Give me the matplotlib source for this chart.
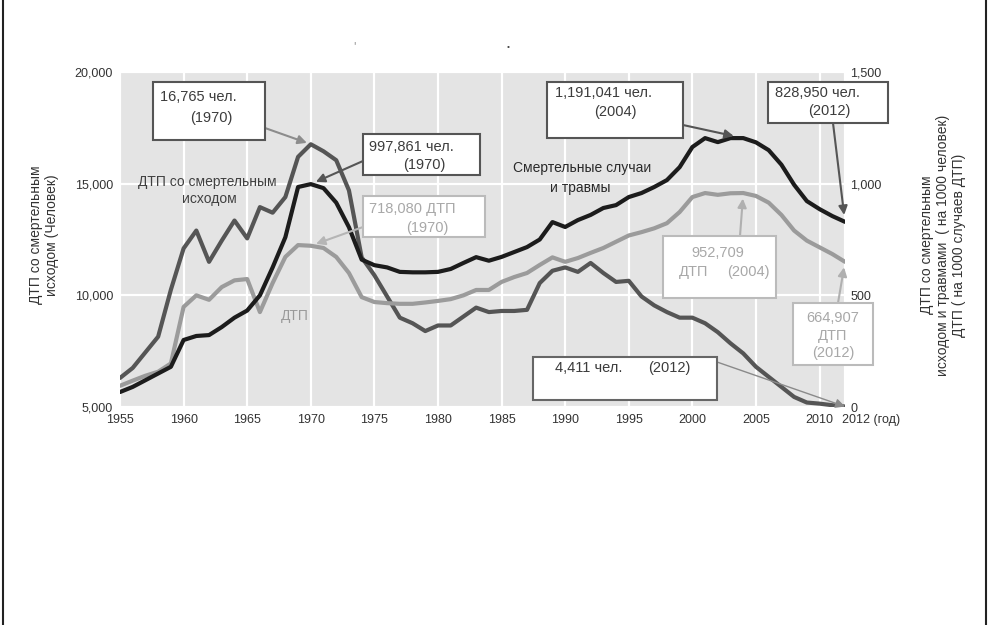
import matplotlib
matplotlib.use("Agg")
import matplotlib.pyplot as plt
from matplotlib.patches import Rectangle
from matplotlib.lines import Line2D
import matplotlib.transforms as mtransforms

plt.rcParams['font.family'] = ['Liberation Sans', 'DejaVu Sans']

# ---------------- data ----------------
years = list(range(1955, 2013))

# ДТП со смертельным исходом (человек) - left axis
fatalities = [6300, 6750, 7450, 8150, 10250, 12100, 12900, 11500, 12450, 13350,
              12550, 13950, 13700, 14400, 16200, 16765, 16450, 16050, 14700, 11700,
              10900, 9950, 9000, 8750, 8400, 8650, 8650, 9050, 9450, 9250,
              9300, 9300, 9350, 10550, 11100, 11250, 11050, 11450, 11000, 10600,
              10650, 9950, 9550, 9250, 9000, 9000, 8750, 8350, 7850, 7400,
              6800, 6350, 5900, 5450, 5200, 5150, 5080, 5020]

# Смертельные случаи и травмы (тыс.) - right axis
deaths_injuries = [67, 90, 120, 150, 180, 300, 318, 322, 358, 400,
                   432, 500, 625, 760, 985, 998, 980, 915, 805, 660,
                   635, 625, 605, 603, 603, 605, 618, 645, 671, 655,
                   672, 694, 716, 750, 828, 806, 837, 860, 891, 904,
                   940, 958, 985, 1016, 1074, 1164, 1204, 1186, 1204, 1204,
                   1185, 1150, 1085, 995, 922, 886, 855, 829]

# ДТП (тыс.) - right axis
accidents = [95, 118, 140, 158, 195, 448, 500, 480, 537, 567,
             573, 425, 555, 672, 725, 722, 712, 672, 600, 492,
             470, 465, 462, 462, 468, 475, 483, 500, 524, 524,
             560, 582, 600, 636, 670, 650, 667, 690, 712, 740,
             768, 783, 800, 823, 873, 940, 958, 950, 957, 958,
             945, 915, 860, 790, 745, 715, 685, 650]

x_ticks = [1955, 1960, 1965, 1970, 1975, 1980, 1985, 1990, 1995, 2000, 2005, 2010, 2012]
x_labels = ['1955', '1960', '1965', '1970', '1975', '1980', '1985', '1990',
            '1995', '2000', '2005', '2010', '2012 (год)']
left_ticks = [5000, 10000, 15000, 20000]
left_labels = ['5,000', '10,000', '15,000', '20,000']
right_ticks = [0, 500, 1000, 1500]
right_labels = ['0', '500', '1,000', '1,500']

# ---------------- figure ----------------
W, H = 990, 625
fig = plt.figure(figsize=(W / 100, H / 100), dpi=100)
fig.patch.set_facecolor('white')


def P(px, py):
    return (px / W, 1 - py / H)


ax = fig.add_axes([120 / W, 1 - 407 / H, 725 / W, 335 / H])
ax.set_facecolor('#e4e4e4')
ax.set_xlim(1955, 2012)
ax.set_ylim(5000, 20000)
for s in ax.spines.values():
    s.set_visible(False)
ax.set_axisbelow(True)
ax.grid(True, color='white', lw=1.6)
ax.set_xticks(x_ticks)
ax.set_xticklabels(x_labels)
ax.set_yticks(left_ticks)
ax.set_yticklabels(left_labels)
ax.tick_params(axis='both', length=0, labelsize=9, colors='#333333')
ax.tick_params(axis='x', pad=5)
ax.tick_params(axis='y', pad=5)
lab = ax.get_xticklabels()[-1]
lab.set_horizontalalignment('left')
lab.set_transform(lab.get_transform() + mtransforms.ScaledTranslation(-3 / 100, 0, fig.dpi_scale_trans))

ax2 = ax.twinx()
ax2.set_ylim(0, 1500)
for s in ax2.spines.values():
    s.set_visible(False)
ax2.set_yticks(right_ticks)
ax2.set_yticklabels(right_labels)
ax2.tick_params(axis='y', length=0, labelsize=9, colors='#333333', pad=4)

ax.plot(years, fatalities, color='#555555', lw=3.0, solid_joinstyle='round', solid_capstyle='round')
ax2.plot(years, accidents, color='#9b9b9b', lw=3.0, solid_joinstyle='round', solid_capstyle='round')
ax2.plot(years, deaths_injuries, color='#1c1c1c', lw=3.0, solid_joinstyle='round', solid_capstyle='round')

DARK = '#3c3c3c'
LIGHT = '#a8a8a8'
FS = 10.5


def box(x0, y0, x1, y1, ec):
    fig.add_artist(Rectangle(P(x0, y1), (x1 - x0) / W, (y1 - y0) / H,
                             transform=fig.transFigure, fc='white', ec=ec, lw=1.5, zorder=5))


def txt(px, py, s, color=DARK, ha='center', size=FS):
    fig.text(*P(px, py), s, color=color, ha=ha, va='center', fontsize=size, zorder=6)


def arrow(axis, xy, start, color, lw=1.5, shrinkB=2, ms=13):
    axis.annotate('', xy=xy, xycoords='data', xytext=P(*start), textcoords='figure fraction',
                  arrowprops=dict(arrowstyle='-|>', color=color, lw=lw, mutation_scale=ms,
                                  shrinkA=0, shrinkB=shrinkB),
                  annotation_clip=False)


# box 1: 16,765 (1970)
box(153, 82, 265, 140, '#555555')
txt(160, 97, '16,765 чел.', ha='left')
txt(211, 118, '(1970)')
arrow(ax, (years[15], fatalities[15]), (265, 128), '#8c8c8c', shrinkB=3)

# box 2: 997,861 (1970)
box(363, 134, 480, 175, '#555555')
txt(369, 147, '997,861 чел.', ha='left')
txt(424, 165, '(1970)')
arrow(ax2, (years[15], deaths_injuries[15]), (363, 161), '#555555', shrinkB=4)

# box 3: 718,080 ДТП (1970)
box(363, 196, 485, 237, '#bbbbbb')
txt(369, 209, '718,080 ДТП', color=LIGHT, ha='left')
txt(427, 228, '(1970)', color=LIGHT)
arrow(ax2, (years[15], accidents[15]), (363, 227), '#b5b5b5', shrinkB=4)

# box 4: 1,191,041 (2004)
box(547, 82, 683, 138, '#555555')
txt(555, 93, '1,191,041 чел.', ha='left')
txt(615, 112, '(2004)')
arrow(ax2, (years[49], deaths_injuries[49]), (683, 125), '#555555', shrinkB=7)

# box 5: 828,950 (2012)
box(768, 82, 888, 123, '#555555')
txt(775, 93, '828,950 чел.', ha='left')
txt(829, 111, '(2012)')
arrow(ax2, (years[57], deaths_injuries[57]), (833, 123), '#555555', shrinkB=5)

# box 6: 952,709 ДТП (2004)
box(663, 236, 776, 298, '#bbbbbb')
txt(718, 253, '952,709', color=LIGHT)
txt(694, 272, 'ДТП', color=LIGHT)
txt(748, 272, '(2004)', color=LIGHT)
arrow(ax2, (years[49], accidents[49]), (740, 236), '#b0b0b0', shrinkB=4)

# box 7: 664,907 ДТП (2012)
box(793, 303, 873, 365, '#bbbbbb')
txt(833, 318, '664,907', color=LIGHT)
txt(833, 336, 'ДТП', color=LIGHT)
txt(833, 353, '(2012)', color=LIGHT)
arrow(ax2, (years[57], accidents[57]), (838, 303), '#b0b0b0', shrinkB=4)

# box 8: 4,411 (2012)
box(533, 357, 717, 400, '#666666')
txt(555, 368, '4,411 чел.', ha='left')
txt(669, 368, '(2012)')
arrow(ax, (years[57], fatalities[57]), (717, 362), '#8a8a8a', lw=1.0, shrinkB=0, ms=14)

# series labels
txt(207, 182, 'ДТП со смертельным', color='#404040', size=10)
txt(209, 199, 'исходом', color='#404040', size=10)
txt(582, 168, 'Смертельные случаи', color='#2a2a2a', size=10)
txt(580, 188, 'и травмы', color='#2a2a2a', size=10)
txt(295, 316, 'ДТП', color='#9a9a9a', size=10)

# axis titles
fig.text(*P(44, 235), 'ДТП со смертельным\nисходом (Человек)', rotation=90,
         ha='center', va='center', multialignment='center', fontsize=10, color='#333333')
fig.text(*P(943, 245), 'ДТП со смертельным\nисходом и травмами  ( на 1000 человек)\nДТП ( на 1000 случаев ДТП)',
         rotation=90, ha='center', va='center', multialignment='center', fontsize=10, color='#333333')

# remnants of the title
fig.text(*P(354, 47), "'", color='#999999', fontsize=9, ha='center', va='center')
fig.text(*P(508, 47), "•", color='#444444', fontsize=6, ha='center', va='center')

# frame lines
fig.add_artist(Line2D([3 / W, 3 / W], [0, 1], transform=fig.transFigure, color='#222222', lw=1.5))
fig.add_artist(Line2D([986 / W, 986 / W], [0, 1], transform=fig.transFigure, color='#222222', lw=1.5))

fig.savefig('out.png', dpi=100)
